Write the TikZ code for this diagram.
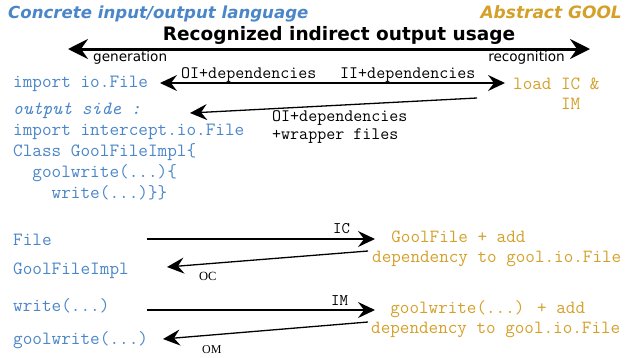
\documentclass[tikz,border=0pt]{standalone}
\usepackage{fontspec}
\setmainfont{DejaVu Sans}
\newfontfamily\serifsmall{Liberation Serif}
\usetikzlibrary{arrows.meta}
\definecolor{concblue}{RGB}{74,134,200}
\definecolor{goolgold}{RGB}{212,160,42}

\tikzset{
  conc/.style={anchor=base west,inner sep=0pt,text=concblue,font=\ttfamily\fontsize{18.7}{21}\selectfont},
  gool/.style={anchor=base west,inner sep=0pt,text=goolgold,align=left,font=\ttfamily\fontsize{18.6}{20}\selectfont},
  deplabel/.style={anchor=base west,inner sep=0pt,align=left,font=\ttfamily\fontsize{17.5}{18}\selectfont},
  link/.style={-{Stealth[length=17pt,width=16pt,inset=6pt]},line width=1.3pt},
}

\begin{document}
\begin{tikzpicture}[x=1pt,y=-1pt]
  \useasboundingbox (0,0) rectangle (628,357);

  % Headings
  \node[anchor=base west,inner sep=0pt,text=concblue,font=\bfseries\itshape\fontsize{16.6}{18}\selectfont] (concTitle) at (8,18) {Concrete input/output language};
  \node[anchor=base east,inner sep=0pt,text=goolgold,font=\bfseries\itshape\fontsize{17}{18}\selectfont] (goolTitle) at (622,18) {Abstract GOOL};
  \node[anchor=base,inner sep=0pt,font=\bfseries\fontsize{18.5}{20}\selectfont] (usageTitle) at (339,40) {Recognized indirect output usage};

  % Generation / recognition
  \coordinate (genEnd) at (68,49);
  \coordinate (recEnd) at (590,49);
  \draw[{Stealth[length=20pt,width=20pt,inset=7pt]}-{Stealth[length=20pt,width=20pt,inset=7pt]},line width=3pt] (genEnd) -- (recEnd);
  \node[anchor=base west,inner sep=0pt,font=\fontsize{13.6}{15}\selectfont] (genLabel) at (93,61) {generation};
  \node[anchor=base east,inner sep=0pt,font=\fontsize{13.6}{15}\selectfont] (recLabel) at (565,61) {recognition};

  % Imports
  \node[conc] (importFile) at (13,87) {import io.File};
  \node[gool] (loadICIM) at (513,109) {load IC \&\\\ \ \ \ \ IM};
  \coordinate (depLeft) at (160,83);
  \coordinate (depRight) at (505,83);
  \draw[link,{Stealth[length=17pt,width=16pt,inset=6pt]}-{Stealth[length=17pt,width=16pt,inset=6pt]}] (depLeft) -- (depRight);
  \node[deplabel] (oiDep) at (181,78.5) {OI+dependencies};
  \node[deplabel] (iiDep) at (340,78.5) {II+dependencies};

  % Output side
  \node[conc,align=left] (outputSide) at (13,198) {\itshape output side :\\import intercept.io.File\\Class GoolFileImpl\{\\\ \ goolwrite(...)\{\\\ \ \ \ write(...)\}\}};
  \coordinate (wrapStart) at (477,98);
  \coordinate (wrapEnd) at (190,113);
  \draw[link] (wrapStart) -- (wrapEnd);
  \node[deplabel] (oiWrap) at (272,139) {OI+dependencies\\+wrapper files};

  % Classes
  \node[conc] (fileClass) at (13,245) {File};
  \node[conc] (goolFileImpl) at (13,274) {GoolFileImpl};
  \node[gool] (goolFile) at (372,262) {\ \ GoolFile + add\\dependency to gool.io.File};
  \coordinate (icStart) at (147,239);
  \coordinate (icEnd) at (375,239);
  \coordinate (ocStart) at (368,251);
  \coordinate (ocEnd) at (167,267);
  \draw[link] (icStart) -- (icEnd);
  \draw[link] (ocStart) -- (ocEnd);
  \node[anchor=base west,inner sep=0pt,font=\ttfamily\fontsize{16.2}{17}\selectfont] (icLabel) at (333,233) {IC};
  \node[anchor=base west,inner sep=0pt,font=\serifsmall\fontsize{12.5}{14}\selectfont] (ocLabel) at (199,280) {OC};

  % Methods
  \node[conc] (writeCall) at (13,311) {write(...)};
  \node[conc] (goolwriteCall) at (13,344) {goolwrite(...)};
  \node[gool] (goolWrite) at (371,333) {\ \ goolwrite(...) + add\\dependency to gool.io.File};
  \coordinate (imStart) at (147,310);
  \coordinate (imEnd) at (375,310);
  \coordinate (omStart) at (368,322);
  \coordinate (omEnd) at (163,339);
  \draw[link] (imStart) -- (imEnd);
  \draw[link] (omStart) -- (omEnd);
  \node[anchor=base west,inner sep=0pt,font=\ttfamily\fontsize{16.2}{17}\selectfont] (imLabel) at (331,305) {IM};
  \node[anchor=base west,inner sep=0pt,font=\serifsmall\fontsize{12}{14}\selectfont] (omLabel) at (202,353) {OM};
\end{tikzpicture}
\end{document}
